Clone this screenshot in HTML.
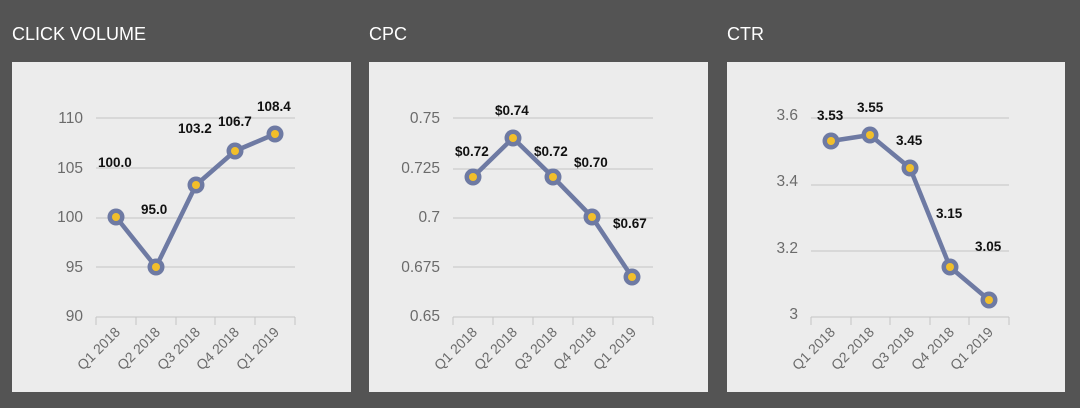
<!DOCTYPE html>
<html><head><meta charset="utf-8"><style>
html,body{margin:0;padding:0;background:#545454;}
svg{display:block}
.t{font-family:"Liberation Sans",sans-serif;fill:#fff;font-size:18px}
.y{font-family:"Liberation Sans",sans-serif;fill:#6b6b6b;font-size:15.5px;text-anchor:end}
.x{font-family:"Liberation Sans",sans-serif;fill:#6b6b6b;font-size:14px;text-anchor:end}
.d{font-family:"Liberation Sans",sans-serif;fill:#111;font-size:13.5px;font-weight:bold}
.g{stroke:#c4c4c4;stroke-width:1}
.ln{fill:none;stroke:#6e7aa3;stroke-width:4.5;stroke-linejoin:round}
.o{fill:#6e7aa3}.i{fill:#f2bf2a}
</style></head><body>
<svg width="1080" height="408" viewBox="0 0 1080 408">
<rect width="1080" height="408" fill="#545454"/>
<text class="t" x="12" y="40">CLICK VOLUME</text>
<text class="t" x="369" y="40">CPC</text>
<text class="t" x="727" y="40">CTR</text>
<rect x="12" y="62" width="339" height="330" fill="#ececec"/>
<rect x="369" y="62" width="339" height="330" fill="#ececec"/>
<rect x="727" y="62" width="338" height="330" fill="#ececec"/>

<!-- Chart 1 -->
<g>
<line class="g" x1="96" x2="295" y1="118" y2="118"/>
<line class="g" x1="96" x2="295" y1="168" y2="168"/>
<line class="g" x1="96" x2="295" y1="218" y2="218"/>
<line class="g" x1="96" x2="295" y1="267" y2="267"/>
<line class="g" x1="96" x2="295" y1="317" y2="317"/>
<g class="g"><line x1="96" x2="96" y1="317" y2="325"/><line x1="136" x2="136" y1="317" y2="325"/><line x1="176" x2="176" y1="317" y2="325"/><line x1="215" x2="215" y1="317" y2="325"/><line x1="255" x2="255" y1="317" y2="325"/><line x1="295" x2="295" y1="317" y2="325"/></g>
<text class="y" x="83" y="123">110</text><text class="y" x="83" y="173">105</text><text class="y" x="83" y="222">100</text><text class="y" x="83" y="272">95</text><text class="y" x="83" y="321">90</text>
<polyline class="ln" points="116,217 156,267 196,185 235,151 275,134"/>
<g><circle class="o" cx="116" cy="217" r="8.5"/><circle class="i" cx="116" cy="217" r="4"/>
<circle class="o" cx="156" cy="267" r="8.5"/><circle class="i" cx="156" cy="267" r="4"/>
<circle class="o" cx="196" cy="185" r="8.5"/><circle class="i" cx="196" cy="185" r="4"/>
<circle class="o" cx="235" cy="151" r="8.5"/><circle class="i" cx="235" cy="151" r="4"/>
<circle class="o" cx="275" cy="134" r="8.5"/><circle class="i" cx="275" cy="134" r="4"/></g>
<text class="d" x="98" y="167">100.0</text><text class="d" x="141" y="214">95.0</text><text class="d" x="178" y="133">103.2</text><text class="d" x="218" y="126">106.7</text><text class="d" x="257" y="111">108.4</text>
<text class="x" transform="translate(121,333) rotate(-45)">Q1 2018</text>
<text class="x" transform="translate(161,333) rotate(-45)">Q2 2018</text>
<text class="x" transform="translate(201,333) rotate(-45)">Q3 2018</text>
<text class="x" transform="translate(240,333) rotate(-45)">Q4 2018</text>
<text class="x" transform="translate(280,333) rotate(-45)">Q1 2019</text>
</g>

<!-- Chart 2 -->
<g>
<line class="g" x1="453" x2="653" y1="118" y2="118"/>
<line class="g" x1="453" x2="653" y1="169" y2="169"/>
<line class="g" x1="453" x2="653" y1="218" y2="218"/>
<line class="g" x1="453" x2="653" y1="267" y2="267"/>
<line class="g" x1="453" x2="653" y1="317" y2="317"/>
<g class="g"><line x1="453" x2="453" y1="317" y2="325"/><line x1="493" x2="493" y1="317" y2="325"/><line x1="533" x2="533" y1="317" y2="325"/><line x1="573" x2="573" y1="317" y2="325"/><line x1="613" x2="613" y1="317" y2="325"/><line x1="653" x2="653" y1="317" y2="325"/></g>
<text class="y" x="440" y="123">0.75</text><text class="y" x="440" y="173">0.725</text><text class="y" x="440" y="222">0.7</text><text class="y" x="440" y="272">0.675</text><text class="y" x="440" y="321">0.65</text>
<polyline class="ln" points="473,177 513,138 553,177 592,217 632,277"/>
<g><circle class="o" cx="473" cy="177" r="8.5"/><circle class="i" cx="473" cy="177" r="4"/>
<circle class="o" cx="513" cy="138" r="8.5"/><circle class="i" cx="513" cy="138" r="4"/>
<circle class="o" cx="553" cy="177" r="8.5"/><circle class="i" cx="553" cy="177" r="4"/>
<circle class="o" cx="592" cy="217" r="8.5"/><circle class="i" cx="592" cy="217" r="4"/>
<circle class="o" cx="632" cy="277" r="8.5"/><circle class="i" cx="632" cy="277" r="4"/></g>
<text class="d" x="455" y="156">$0.72</text><text class="d" x="495" y="115">$0.74</text><text class="d" x="534" y="156">$0.72</text><text class="d" x="574" y="167">$0.70</text><text class="d" x="613" y="228">$0.67</text>
<text class="x" transform="translate(478,333) rotate(-45)">Q1 2018</text>
<text class="x" transform="translate(518,333) rotate(-45)">Q2 2018</text>
<text class="x" transform="translate(558,333) rotate(-45)">Q3 2018</text>
<text class="x" transform="translate(597,333) rotate(-45)">Q4 2018</text>
<text class="x" transform="translate(637,333) rotate(-45)">Q1 2019</text>
</g>

<!-- Chart 3 -->
<g>
<line class="g" x1="811" x2="1009" y1="118" y2="118"/>
<line class="g" x1="811" x2="1009" y1="185" y2="185"/>
<line class="g" x1="811" x2="1009" y1="251" y2="251"/>
<line class="g" x1="811" x2="1009" y1="317" y2="317"/>
<g class="g"><line x1="811" x2="811" y1="317" y2="325"/><line x1="851" x2="851" y1="317" y2="325"/><line x1="890" x2="890" y1="317" y2="325"/><line x1="930" x2="930" y1="317" y2="325"/><line x1="969" x2="969" y1="317" y2="325"/><line x1="1009" x2="1009" y1="317" y2="325"/></g>
<text class="y" x="798" y="120">3.6</text><text class="y" x="798" y="186">3.4</text><text class="y" x="798" y="253">3.2</text><text class="y" x="798" y="319">3</text>
<polyline class="ln" points="831,141 870,135 910,168 950,267 989,300"/>
<g><circle class="o" cx="831" cy="141" r="8.5"/><circle class="i" cx="831" cy="141" r="4"/>
<circle class="o" cx="870" cy="135" r="8.5"/><circle class="i" cx="870" cy="135" r="4"/>
<circle class="o" cx="910" cy="168" r="8.5"/><circle class="i" cx="910" cy="168" r="4"/>
<circle class="o" cx="950" cy="267" r="8.5"/><circle class="i" cx="950" cy="267" r="4"/>
<circle class="o" cx="989" cy="300" r="8.5"/><circle class="i" cx="989" cy="300" r="4"/></g>
<text class="d" x="817" y="120">3.53</text><text class="d" x="857" y="112">3.55</text><text class="d" x="896" y="145">3.45</text><text class="d" x="936" y="218">3.15</text><text class="d" x="975" y="251">3.05</text>
<text class="x" transform="translate(836,333) rotate(-45)">Q1 2018</text>
<text class="x" transform="translate(875,333) rotate(-45)">Q2 2018</text>
<text class="x" transform="translate(915,333) rotate(-45)">Q3 2018</text>
<text class="x" transform="translate(955,333) rotate(-45)">Q4 2018</text>
<text class="x" transform="translate(994,333) rotate(-45)">Q1 2019</text>
</g>
</svg>
</body></html>
